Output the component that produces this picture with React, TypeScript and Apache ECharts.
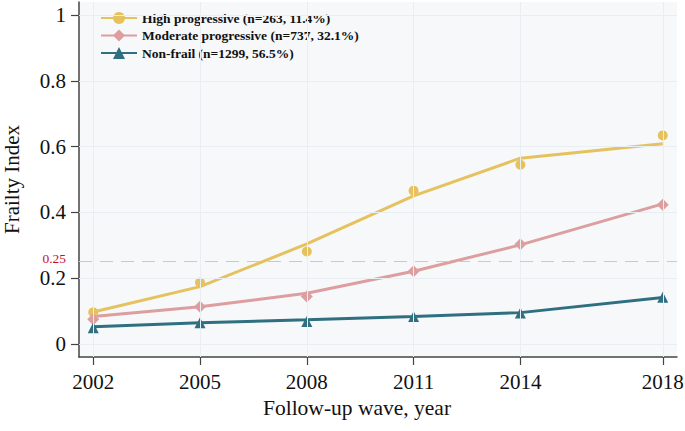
import React, { useEffect, useRef } from "react";
import * as echarts from "echarts";

const years = [2002, 2005, 2008, 2011, 2014, 2018];
const yTicks = [0, 0.2, 0.4, 0.6, 0.8, 1];
const yTickLabels = ["0", "0.2", "0.4", "0.6", "0.8", "1"];
const seriesNames = [
  "High progressive (n=263, 11.4%)",
  "Moderate progressive (n=737, 32.1%)",
  "Non-frail (n=1299, 56.5%)",
];
const highObs = [0.096, 0.187, 0.281, 0.466, 0.545, 0.634];
const highFit = [0.097, 0.174, 0.304, 0.45, 0.565, 0.609];
const modObs = [0.075, 0.113, 0.144, 0.221, 0.303, 0.423];
const modFit = [0.083, 0.113, 0.154, 0.221, 0.301, 0.426];
const nonObs = [0.049, 0.064, 0.068, 0.083, 0.094, 0.142];
const nonFit = [0.052, 0.064, 0.073, 0.083, 0.095, 0.141];
const refLine = 0.25;

const colors = ["#e6c25e", "#dc9e9f", "#2f6f80"];
const symbols = ["circle", "diamond", "triangle"];
const symbolSizes = [10, 12, 11];
const serif = "'Liberation Serif', 'Times New Roman', serif";

const pair = (xs: number[], ys: number[]) => xs.map((x, i) => [x, ys[i]]);

export default function App() {
  const ref = useRef<HTMLDivElement>(null);
  useEffect(() => {
    document.body.style.margin = "0";
    const chart = echarts.init(ref.current!, null, { renderer: "svg" });
    const fits = [highFit, modFit, nonFit];
    const obs = [highObs, modObs, nonObs];
    const lineSeries = fits.map((f, i) => ({
      type: "line",
      name: seriesNames[i],
      data: pair(years, f),
      symbol: symbols[i],
      showSymbol: false,
      lineStyle: { color: colors[i], width: 3 },
      itemStyle: { color: colors[i] },
      z: 3,
    }));
    const scatterSeries = obs.map((o, i) => ({
      type: "scatter",
      name: "obs" + i,
      data: pair(years, o),
      symbol: symbols[i],
      symbolSize: symbolSizes[i],
      itemStyle: { color: colors[i], opacity: 1 },
      z: 4,
    }));
    const gridSeries = {
      type: "line",
      name: "grid",
      data: [],
      silent: true,
      z: 1,
      markLine: {
        silent: true,
        symbol: "none",
        animation: false,
        label: { show: false },
        lineStyle: { color: "#e9eef2", width: 1, type: "solid" },
        data: [
          ...years.map((y) => ({ xAxis: y })),
          ...yTicks.map((v) => ({ yAxis: v })),
        ],
      },
    };
    const refSeries = {
      type: "line",
      name: "ref",
      data: [],
      silent: true,
      z: 2,
      markLine: {
        silent: true,
        symbol: "none",
        animation: false,
        lineStyle: { color: "#f0b8c0", width: 1.2, type: [13, 8] },
        label: {
          show: true,
          position: "start",
          formatter: String(refLine),
          color: "#c8102e",
          fontFamily: serif,
          fontSize: 13.5,
          lineHeight: 12,
          distance: 13,
          offset: [0, -3],
        },
        data: [{ yAxis: refLine }],
      },
    };
    chart.setOption({
      animation: false,
      backgroundColor: "#ffffff",
      grid: {
        left: 79,
        right: 8,
        top: 2,
        bottom: 74,
        show: true,
        backgroundColor: "#f6f8fa",
        borderWidth: 0,
        containLabel: false,
        outerBoundsMode: "none",
      },
      legend: {
        data: seriesNames,
        orient: "vertical",
        left: 100,
        top: 11,
        padding: 0,
        itemWidth: 36,
        itemHeight: 15,
        itemGap: 3.5,
        textStyle: {
          fontFamily: serif,
          fontWeight: "bold",
          fontSize: 13.5,
          color: "#111",
        },
      },
      xAxis: {
        type: "value",
        min: 2001.6,
        max: 2018.4,
        name: "Follow-up wave, year",
        nameLocation: "middle",
        nameGap: 39,
        nameTextStyle: {
          fontFamily: serif,
          fontSize: 21.5,
          color: "#111",
          padding: [0, 42, 0, 0],
          verticalAlign: "top",
        },
        axisLine: { show: true, onZero: false, lineStyle: { color: "#444", width: 1.5 } },
        axisTick: {
          show: true,
          length: 8,
          customValues: years,
          lineStyle: { color: "#444", width: 1.2 },
        },
        axisLabel: {
          customValues: years,
          formatter: (v: number) => String(v),
          fontFamily: serif,
          fontSize: 21,
          color: "#111",
          margin: 14,
        },
        splitLine: { show: false },
      },
      yAxis: {
        type: "value",
        min: -0.04,
        max: 1.04,
        name: "Frailty Index",
        nameLocation: "middle",
        nameGap: 57,
        nameRotate: 90,
        nameTextStyle: { fontFamily: serif, fontSize: 21, lineHeight: 20, color: "#111" },
        axisLine: { show: true, onZero: false, lineStyle: { color: "#444", width: 1.5 } },
        axisTick: {
          show: true,
          length: 8,
          customValues: yTicks,
          lineStyle: { color: "#444", width: 1.2 },
        },
        axisLabel: {
          customValues: yTicks,
          formatter: (v: number) => {
            const idx = yTicks.findIndex((t) => Math.abs(t - v) < 1e-6);
            return idx >= 0 ? yTickLabels[idx] : "";
          },
          fontFamily: serif,
          fontSize: 21,
          lineHeight: 17,
          color: "#111",
          margin: 13,
        },
        splitLine: { show: false },
      },
      series: [gridSeries, refSeries, ...lineSeries, ...scatterSeries],
    });
    return () => chart.dispose();
  }, []);
  return <div ref={ref} style={{ width: 685, height: 431 }} />;
}
